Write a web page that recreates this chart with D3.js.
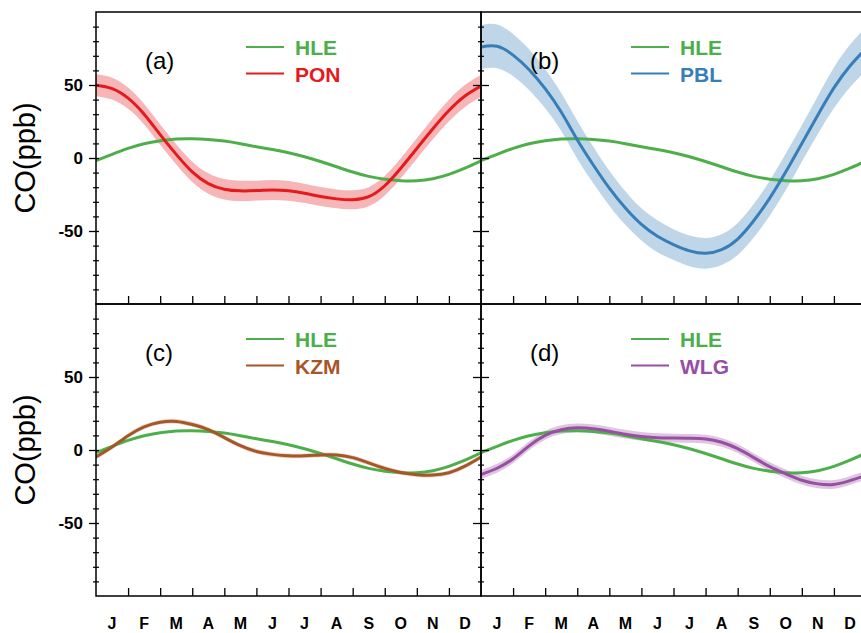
<!DOCTYPE html>
<html>
<head>
<meta charset="utf-8">
<script src="https://cdn.jsdelivr.net/npm/d3@7"></script>
<style>
  body { margin: 0; background: #fff; }
  svg { display: block; font-family: "Liberation Sans", Arial, sans-serif; }
</style>
</head>
<body>
<div id="chart"></div>
<script>
// month positions (0 = start of Jan, 12 = end of Dec), half-month steps
const tGrid = [0, 0.5, 1, 1.5, 2, 2.5, 3, 3.5, 4, 4.5, 5, 5.5, 6, 6.5, 7, 7.5, 8, 8.5, 9, 9.5, 10, 10.5, 11, 11.5, 12];
const months = ["J", "F", "M", "A", "M", "J", "J", "A", "S", "O", "N", "D"];
const yMajor = [-50, 0, 50];
const yMinor = [-90, -80, -70, -60, -40, -30, -20, -10, 10, 20, 30, 40, 60, 70, 80, 90];

// HLE reference curve (shown in every panel)
const hle = [-1.8, 2.5, 6.6, 9.8, 11.8, 13, 13.2, 12.7, 11.6, 9.8, 7.7, 5.8, 3.6, 0.9, -2.4, -6, -9.6, -12.6, -14.5, -15.5, -15.6, -14.2, -11.2, -7, -2];

const pon    = [49.8, 47.5, 41, 30, 16, 2.5, -9.5, -17.5, -21.4, -22.5, -22.3, -21.9, -22.5, -24.2, -26.4, -28, -28.6, -26.5, -19, -7, 6.5, 20, 32.5, 42.5, 49.3];
const ponErr = [7.5, 7.5, 7.3, 7, 7, 7, 7, 7, 7, 7, 6.8, 6.8, 6.8, 6.6, 6.5, 6.5, 6.5, 6.5, 6.6, 6.8, 7, 7.2, 7.4, 7.5, 7.5];

const pbl    = [76, 76.5, 70.5, 60.5, 47.5, 31.5, 12.5, -4.8, -20.7, -34.3, -45.5, -53.6, -59.3, -63.6, -65.3, -62.8, -55.5, -43, -27.5, -9.5, 10, 29.5, 48, 63, 75];
const pblErr = [15, 15, 14.5, 14, 13.5, 13, 13, 12.5, 12, 11.5, 11, 11, 10.5, 10.5, 10.5, 10.5, 11, 11.5, 12, 12.5, 12.5, 13, 14, 14.5, 15];

const kzm    = [-4.8, 2, 9.8, 15.8, 19, 19.6, 17.5, 14, 8.5, 3, -1, -3, -4, -4, -3.4, -3.4, -5.2, -8.8, -12.6, -15.4, -16.9, -17.2, -15.6, -11.1, -4.8];
const kzmErr = [1.6, 1.6, 1.6, 1.6, 1.6, 1.6, 1.6, 1.6, 1.6, 1.6, 1.6, 1.6, 1.6, 1.6, 1.6, 1.6, 1.6, 1.6, 1.6, 1.6, 1.6, 1.6, 1.6, 1.6, 1.6];

const wlg    = [-16.8, -12.5, -6, 2.8, 10, 13.9, 15.2, 14.5, 12.8, 10.8, 9.3, 8.4, 8.2, 8, 7.5, 5.3, 0.9, -5.2, -11.4, -16.3, -20.7, -23.2, -23.6, -21, -17.3];
const wlgErr = [3, 3, 3, 3, 3, 3, 3, 3, 3, 3, 3, 3, 3, 3, 3, 3, 3, 3, 3, 3, 3, 3, 3, 3, 3];

const panels = [
    {tag: "(a)", name: "PON", values: pon, err: ponErr, color: "#e41a1c", col: 0, row: 0},
    {tag: "(b)", name: "PBL", values: pbl, err: pblErr, color: "#377eb8", col: 1, row: 0},
    {tag: "(c)", name: "KZM", values: kzm, err: kzmErr, color: "#a65628", col: 0, row: 1},
    {tag: "(d)", name: "WLG", values: wlg, err: wlgErr, color: "#984ea3", col: 1, row: 1}
];
const hleColor = "#4daf4a";

const W = 861, H = 633;
const marginLeft = 96, marginTop = 12, pw = 385, ph = 292;

const svg = d3.select("#chart").append("svg")
    .attr("width", W)
    .attr("height", H);

const x = d3.scaleLinear().domain([0, 12]).range([0, pw]);
const y = d3.scaleLinear().domain([-100, 100]).range([ph, 0]);
const xBand = d3.scaleBand().domain(d3.range(12)).range([0, pw]);

const line = d3.line()
    .x((d, i) => x(tGrid[i]))
    .y(d => y(d))
    .curve(d3.curveNatural);

const band = (vals, err) => d3.area()
    .x((d, i) => x(tGrid[i]))
    .y0((d, i) => y(vals[i] - err[i]))
    .y1((d, i) => y(vals[i] + err[i]))
    .curve(d3.curveNatural)(vals);

const defs = svg.append("defs");

panels.forEach((p, k) => {
    const g = svg.append("g")
        .attr("transform", `translate(${marginLeft + p.col * pw},${marginTop + p.row * ph})`);

    defs.append("clipPath").attr("id", "clip" + k)
        .append("rect").attr("width", pw).attr("height", ph);

    const plot = g.append("g").attr("clip-path", `url(#clip${k})`);

    // uncertainty band
    plot.append("path")
        .attr("d", band(p.values, p.err))
        .attr("fill", p.color)
        .attr("fill-opacity", p.name === "KZM" ? 0.25 : 0.32);

    plot.append("path")
        .datum(hle)
        .attr("d", line)
        .attr("fill", "none")
        .attr("stroke", hleColor)
        .attr("stroke-width", 3);

    plot.append("path")
        .datum(p.values)
        .attr("d", line)
        .attr("fill", "none")
        .attr("stroke", p.color)
        .attr("stroke-width", 3);

    // frame
    g.append("rect")
        .attr("width", pw).attr("height", ph)
        .attr("fill", "none")
        .attr("stroke", "#000")
        .attr("stroke-width", 1.5);

    // x ticks (month boundaries, pointing inward)
    const xa = g.append("g")
        .attr("transform", `translate(0,${ph})`)
        .call(d3.axisBottom(x).tickValues(d3.range(1, 12)).tickSize(-8).tickFormat(""));
    xa.select(".domain").remove();
    xa.selectAll("line").attr("stroke-width", 1.3);

    if (p.row === 1) {
        const xl = g.append("g")
            .attr("transform", `translate(0,${ph})`)
            .call(d3.axisBottom(xBand).tickSize(0).tickFormat(i => months[i]));
        xl.select(".domain").remove();
        xl.selectAll("text")
            .attr("y", 33).attr("dy", null)
            .style("font-size", "16px")
            .style("font-weight", "bold")
            .attr("fill", "#000");
    }

    // y ticks
    const outMaj = p.col === 0 ? 7 : 8, inMaj = p.col === 0 ? 3 : 8;
    const ya = g.append("g")
        .call(d3.axisLeft(y).tickValues(yMajor).tickSize(outMaj).tickPadding(6)
            .tickFormat(p.col === 0 ? d3.format("d") : ""));
    ya.select(".domain").remove();
    ya.selectAll("line").attr("x1", inMaj).attr("stroke-width", 1.3);
    ya.selectAll("text")
        .style("font-size", "17px")
        .style("font-weight", "bold")
        .attr("fill", "#000")
        .text(d => p.col === 0 ? String(d) : "");

    const ym = g.append("g")
        .call(d3.axisLeft(y).tickValues(yMinor).tickSize(3).tickFormat(""));
    ym.select(".domain").remove();
    ym.selectAll("line").attr("x1", 3).attr("stroke-width", 1.2);

    // panel tag
    g.append("text")
        .attr("x", 49).attr("y", 57)
        .style("font-size", "24px")
        .attr("fill", "#000")
        .text(p.tag);

    // legend
    const leg = g.append("g").attr("transform", "translate(150,35)");
    [{name: "HLE", color: hleColor}, {name: p.name, color: p.color}].forEach((e, i) => {
        leg.append("line")
            .attr("x1", 0).attr("x2", 38)
            .attr("y1", i * 26.5).attr("y2", i * 26.5)
            .attr("stroke", e.color)
            .attr("stroke-width", 2);
        leg.append("text")
            .attr("x", 49).attr("y", i * 26.5 + 8)
            .style("font-size", "21px")
            .style("font-weight", "bold")
            .attr("fill", e.color)
            .text(e.name);
    });

    // y label
    if (p.col === 0) {
        g.append("text")
            .attr("transform", `translate(${35 - marginLeft},${ph / 2}) rotate(-90)`)
            .attr("text-anchor", "middle")
            .style("font-size", "29px")
            .attr("fill", "#000")
            .text("CO(ppb)");
    }
});
</script>
</body>
</html>
